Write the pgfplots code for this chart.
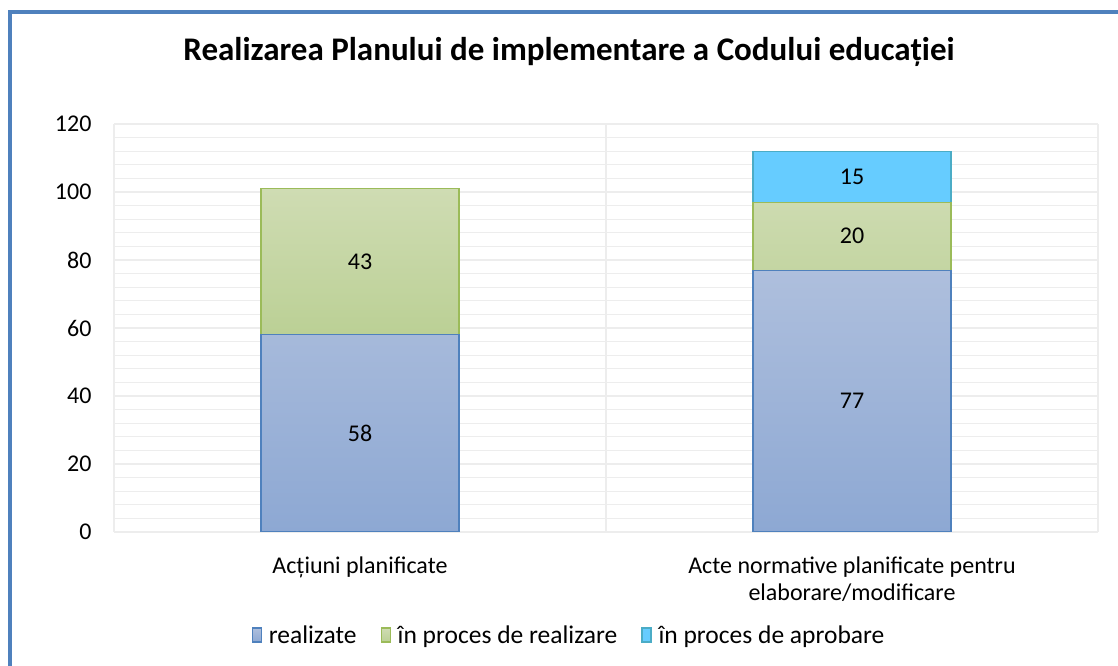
\documentclass[border=0pt]{standalone}
\usepackage{fontspec}
\setmainfont{Carlito}
\usepackage{pgfplots}
\pgfplotsset{compat=1.18}
\definecolor{bluetop}{HTML}{AEBFDD}
\definecolor{bluebot}{HTML}{8DA8D3}
\definecolor{blueedge}{HTML}{4F81BD}
\definecolor{greentop}{HTML}{CFDCB3}
\definecolor{greenbot}{HTML}{BBD095}
\definecolor{greenedge}{HTML}{9BBB59}
\definecolor{cyanfill}{HTML}{66CCFF}
\definecolor{cyanedge}{HTML}{4BACC6}
\definecolor{gridc}{HTML}{EDEDED}
\definecolor{framec}{HTML}{4F81BD}
\begin{document}
\begin{tikzpicture}
\path[use as bounding box] (0,0) rectangle (1118bp,666bp);
\draw[framec, line width=4bp] (10bp,0) -- (10bp,654bp) -- (1118bp,654bp);
\node[font=\fontsize{33bp}{40bp}\selectfont\bfseries] at (569bp,614bp) {Realizarea Planului de implementare a Codului educației};
\begin{axis}[
  at={(114bp,134bp)}, anchor=south west,
  scale only axis, width=984bp, height=408bp,
  ybar stacked, bar width=198bp,
  xmin=-0.5, xmax=1.5, ymin=0, ymax=120,
  axis line style={draw=none},
  xtick={0,1},
  xticklabels={Acțiuni planificate, {Acte normative planificate pentru\\elaborare/modificare}},
  xticklabel style={align=center, font=\fontsize{24bp}{27bp}\selectfont, yshift=-21bp},
  ytick={0,20,...,120},
  yticklabel style={font=\fontsize{24bp}{28bp}\selectfont, xshift=-19bp},
  /pgf/number format/assume math mode=true,
  minor ytick={0,4,...,120},
  minor xtick={-0.5,0.5,1.5},
  ymajorgrids, yminorgrids, xminorgrids,
  major grid style={gridc, line width=1.3bp},
  minor grid style={gridc, line width=1.3bp},
  major tick length=0pt, minor tick length=0pt,
  nodes near coords,
  point meta=rawy,
  every node near coord/.append style={anchor=center, font=\fontsize{24bp}{28bp}\selectfont},
  legend columns=-1,
  legend style={at={(455bp,-103bp)}, anchor=center, draw=none, fill=none,
    font=\fontsize{25.5bp}{30bp}\selectfont,
    /tikz/every odd column/.append style={column sep=5bp},
    /tikz/every even column/.append style={column sep=22bp}},
  legend image code/.code={\draw[#1, line width=1.2bp] (0bp,-7bp) rectangle (9bp,7bp);},
]
% coordinates listed with x=1 first so that the single third-series value stacks on that bar
\addplot[draw=blueedge, line width=1.2bp, top color=bluetop, bottom color=bluebot] coordinates {(1,77) (0,58)};
\addplot[draw=greenedge, line width=1.2bp, top color=greentop, bottom color=greenbot] coordinates {(1,20) (0,43)};
\addplot[draw=cyanedge, line width=1.2bp, fill=cyanfill] coordinates {(1,15)};
\legend{realizate, în proces de realizare, în proces de aprobare}
\end{axis}
\end{tikzpicture}
\end{document}
